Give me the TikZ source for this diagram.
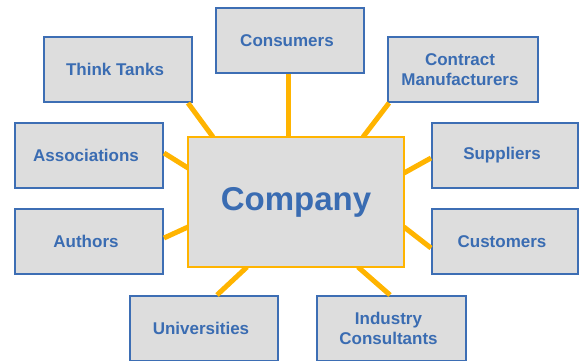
\documentclass[tikz,border=0pt]{standalone}
\usepackage{fontspec}
\setmainfont{Liberation Sans}
\usetikzlibrary{calc}
\definecolor{boxblue}{RGB}{61,110,180}
\definecolor{txtblue}{RGB}{58,108,178}
\definecolor{boxgray}{RGB}{221,221,221}
\definecolor{conorange}{RGB}{255,180,0}
\newcommand{\lft}{\hspace*{-6pt}}
\tikzset{
  partner/.style={draw=boxblue, line width=2pt, fill=boxgray, minimum width=148pt, minimum height=65pt,
    inner sep=0pt, align=center, text=txtblue, font=\fontsize{17}{20}\selectfont\bfseries},
  central/.style={draw=conorange, line width=1.6pt, fill=boxgray, minimum width=216pt, minimum height=130pt,
    inner sep=0pt, text=txtblue, font=\fontsize{33}{38}\selectfont\bfseries},
  link/.style={draw=conorange, line width=5pt}
}
\begin{document}
\begin{tikzpicture}[x=1pt,y=-1pt]
\useasboundingbox (0,0) rectangle (579,360);
\node[partner] (tt) at (118,69.5) {\lft Think Tanks};
\node[partner] (as) at (89,155.5) {\lft Associations};
\node[partner] (cons) at (290,40.5) {\lft Consumers};
\node[partner, minimum width=150pt] (cm) at (463,69.5) {\lft Contract\\\lft Manufacturers};
\node[partner, minimum width=146pt] (su) at (505,155.5) {\lft Suppliers};
\node[partner] (au) at (89,241.5) {\lft Authors};
\node[partner, minimum width=146pt] (cu) at (505,241.5) {\lft Customers};
\node[partner] (un) at (204,328.5) {\lft Universities};
\node[partner, minimum width=149pt] (ic) at (391.5,328.5) {\lft Industry\\\lft Consultants};
\path (296,202) coordinate (cc);
\draw[link] ([xshift=-5pt]tt.south east) -- ($(cc)+(-83,-65)$);
\draw[link] ([xshift=-2pt]cons.south) -- ([xshift=-2pt]cons.south |- cc);
\draw[link] ([xshift=2pt]cm.south west) -- ($(cc)+(67,-65)$);
\draw[link] ([yshift=2.5pt]as.east) -- ($(cc)+(-108,-34)$);
\draw[link] ([yshift=-2.5pt]su.west) -- ($(cc)+(108,-29)$);
\draw[link] ([yshift=3.5pt]au.east) -- ($(cc)+(-108,25)$);
\draw[link] ([yshift=-6.5pt]cu.west) -- ($(cc)+(108,25)$);
\draw[link] ([xshift=13pt]un.north) -- ($(cc)+(-49,65)$);
\draw[link] ([xshift=-1.5pt]ic.north) -- ($(cc)+(62,65)$);
\node[central] (cmp) at (cc) {\raisebox{4pt}{Company}};
\end{tikzpicture}
\end{document}
